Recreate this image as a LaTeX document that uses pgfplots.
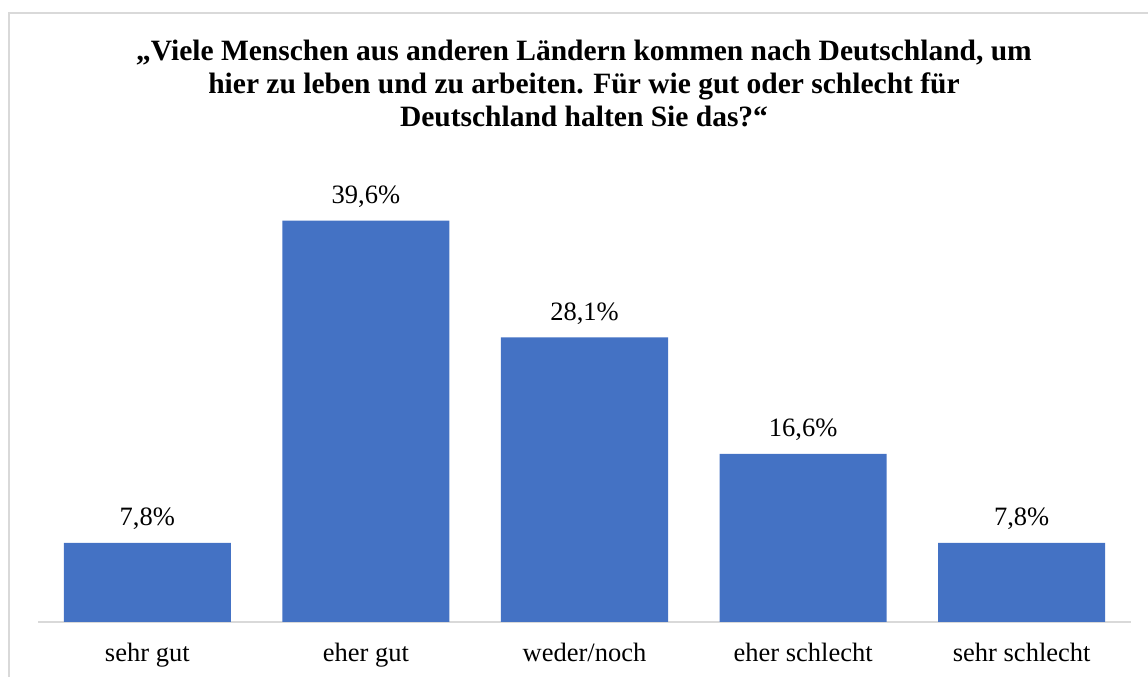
\documentclass[border=0pt]{standalone}
\usepackage{pgfplots}
\pgfplotsset{compat=1.18}
\usepackage{fontspec}
\setmainfont{Liberation Serif}
\definecolor{barblue}{HTML}{4472C4}
\definecolor{framegray}{HTML}{D9D9D9}
\begin{document}
\begin{tikzpicture}[x=1pt,y=1pt]
\useasboundingbox (0,0) rectangle (1148,677);
\draw[framegray, line width=2pt] (9,-5) -- (9,664) -- (1153,664);
\node[anchor=base, font=\fontsize{29.5}{33}\selectfont\bfseries] at (584,616) {„Viele Menschen aus anderen Ländern kommen nach Deutschland, um};
\node[anchor=base, font=\fontsize{29.5}{33}\selectfont\bfseries] at (584,583) {hier zu leben und zu arbeiten. Für wie gut oder schlecht für};
\node[anchor=base, font=\fontsize{29.5}{33}\selectfont\bfseries] at (584,550) {Deutschland halten Sie das?“};
\begin{axis}[
  at={(38pt,55pt)}, anchor=south west,
  scale only axis, width=1093pt, height=456pt,
  xmin=-0.5, xmax=4.5, ymin=0, ymax=45,
  axis y line=none,
  axis x line*=bottom,
  x axis line style={framegray, line width=2pt, -},
  xtick=data,
  xticklabels={sehr gut, eher gut, weder/noch, eher schlecht, sehr schlecht},
  major tick length=0pt,
  xticklabel style={anchor=base, yshift=-40pt, font=\fontsize{26.5}{30}\selectfont},
  ybar, bar width=167pt,
  /pgf/number format/assume math mode=true,
  nodes near coords={\pgfmathprintnumber[fixed,precision=1,fixed zerofill,use comma,assume math mode=true]{\pgfplotspointmeta}\%},
  every node near coord/.append style={anchor=base, yshift=17pt, inner sep=0pt, font=\fontsize{26.5}{30}\selectfont, black},
  clip=false,
]
\addplot[fill=barblue, draw=none] coordinates {(0,7.8) (1,39.6) (2,28.1) (3,16.6) (4,7.8)};
\end{axis}
\end{tikzpicture}
\end{document}
